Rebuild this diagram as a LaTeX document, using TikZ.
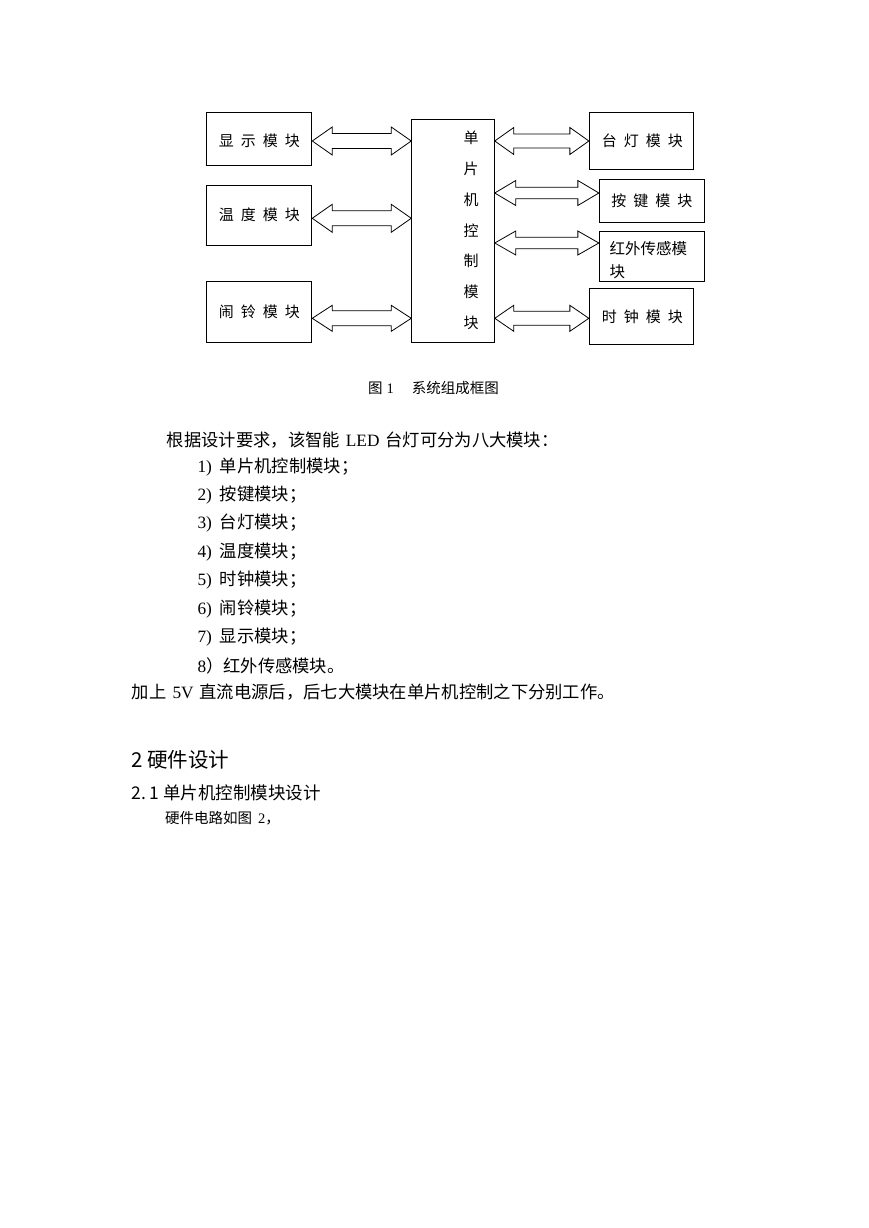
\documentclass[tikz,border=0pt]{standalone}
\usepackage{fontspec}
\setmainfont{Liberation Serif}
\newfontfamily\cjk{Noto Sans CJK SC}
\usetikzlibrary{calc}
\newcommand\gp{\hspace{7pt}}
% #1 left end, #2 right end, #3 head length, #4 head half width, #5 shaft half width
\newcommand\biarrow[5]{%
  \draw[barrow] let \p1=(#1), \p2=(#2) in
  (\x1,\y1) -- (\x1+#3,\y1+#4) -- (\x1+#3,\y1+#5) -- (\x2-#3,\y1+#5) -- (\x2-#3,\y1+#4) -- (\x2,\y1)
  -- (\x2-#3,\y1-#4) -- (\x2-#3,\y1-#5) -- (\x1+#3,\y1-#5) -- (\x1+#3,\y1-#4) -- cycle;}
\begin{document}
\begin{tikzpicture}[x=1pt,y=-1pt,
  box/.style={draw,line width=0.9pt,inner sep=0pt,rectangle},
  boxtxt/.style={font=\fontsize{15}{18}\selectfont\cjk,inner sep=0pt},
  barrow/.style={draw,line width=0.8pt,fill=white,line join=miter},
  body/.style={font=\fontsize{17.3}{20}\selectfont,anchor=west,inner sep=0pt},
  ]
\fill[white] (0,0) rectangle (869,1228);
\useasboundingbox (0,0) rectangle (869,1228);

% ---- boxes ----
\node[box,minimum width=105pt,minimum height=53pt] (disp) at (259.3,138.7) {};
\node[box,minimum width=105pt,minimum height=60pt] (temp) at (259.3,215) {};
\node[box,minimum width=105pt,minimum height=61pt] (alarm) at (259.3,312.2) {};
\node[box,minimum width=82.6pt,minimum height=223.4pt] (mcu) at (453,231) {};
\node[box,minimum width=104pt,minimum height=57pt] (lamp) at (641.3,140.8) {};
\node[box,minimum width=105pt,minimum height=43.4pt] (key) at (651.8,201) {};
\node[box,minimum width=105pt,minimum height=49.3pt] (ir) at (651.8,256.4) {};
\node[box,minimum width=104pt,minimum height=55.7pt] (clock) at (641.3,316.7) {};

% ---- box texts ----
\node[boxtxt] (tdisp) at ([yshift=-2.5pt]disp.center) {显\gp 示\gp 模\gp 块};
\node[boxtxt] (ttemp) at (temp.center) {温\gp 度\gp 模\gp 块};
\node[boxtxt] (talarm) at (alarm.center) {闹\gp 铃\gp 模\gp 块};
\node[boxtxt] (tlamp) at ([xshift=1pt]lamp.center) {台\gp 灯\gp 模\gp 块};
\node[boxtxt] (tkey) at (key.center) {按\gp 键\gp 模\gp 块};
\node[boxtxt] (tclock) at ([xshift=1pt]clock.center) {时\gp 钟\gp 模\gp 块};
\node[boxtxt,anchor=west,align=left,font=\fontsize{15.5}{23}\selectfont\cjk] (tir) at (609.5,260.5) {红外传感模\\块};
\node[boxtxt,align=center,font=\fontsize{15}{30.8}\selectfont\cjk] (tmcu) at (471,230.5) {单\\片\\机\\控\\制\\模\\块};

% ---- arrows ----
\coordinate (L1a) at (disp.east |- 0,141);
\coordinate (L1b) at (mcu.west |- 0,141);
\coordinate (L2a) at (temp.east |- 0,218.3);
\coordinate (L2b) at (mcu.west |- 0,218.3);
\coordinate (L3a) at (alarm.east |- 0,318.3);
\coordinate (L3b) at (mcu.west |- 0,318.3);
\coordinate (R1a) at (mcu.east |- 0,141);
\coordinate (R1b) at (lamp.west |- 0,141);
\coordinate (R2a) at (mcu.east |- 0,193);
\coordinate (R2b) at (key.west |- 0,193);
\coordinate (R3a) at (mcu.east |- 0,243);
\coordinate (R3b) at (ir.west |- 0,243);
\coordinate (R4a) at (mcu.east |- 0,318.3);
\coordinate (R4b) at (clock.west |- 0,318.3);
\biarrow{L1a}{L1b}{20pt}{14pt}{7.5pt}
\biarrow{L2a}{L2b}{20pt}{14pt}{7.5pt}
\biarrow{L3a}{L3b}{20pt}{13pt}{7.5pt}
\biarrow{R1a}{R1b}{19pt}{13.5pt}{7pt}
\biarrow{R2a}{R2b}{21pt}{12.5pt}{5.8pt}
\biarrow{R3a}{R3b}{21pt}{12pt}{5.8pt}
\biarrow{R4a}{R4b}{19pt}{13pt}{7pt}

% ---- caption ----
\node[anchor=west,inner sep=0pt,font=\fontsize{14.5}{17}\selectfont] (cap) at (368,388)
  {{\cjk 图}\hspace{4pt}1\hspace{18pt}{\cjk 系统组成框图}};

% ---- body text ----
\node[body] (p1) at (166.7,440) {{\cjk 根据设计要求，该智能}\hspace{6pt}LED\hspace{6pt}{\cjk 台灯可分为八大模块：}};
\node[body] (it1) at (197.3,466.7) {1)\hspace{8pt}{\cjk 单片机控制模块；}};
\node[body] (it2) at (197.3,495.1) {2)\hspace{8pt}{\cjk 按键模块；}};
\node[body] (it3) at (197.3,523.5) {3)\hspace{8pt}{\cjk 台灯模块；}};
\node[body] (it4) at (197.3,551.9) {4)\hspace{8pt}{\cjk 温度模块；}};
\node[body] (it5) at (197.3,580.3) {5)\hspace{8pt}{\cjk 时钟模块；}};
\node[body] (it6) at (197.3,608.7) {6)\hspace{8pt}{\cjk 闹铃模块；}};
\node[body] (it7) at (197.3,637.1) {7)\hspace{8pt}{\cjk 显示模块；}};
\node[body] (it8) at (197.3,665.5) {8{\cjk ）红外传感模块。}};
\node[body] (p2) at (131.7,691.7) {{\cjk 加上}\hspace{6pt}5V\hspace{6pt}{\cjk 直流电源后，后七大模块在单片机控制之下分别工作。}};

% ---- headings ----
\node[anchor=west,inner sep=0pt,font=\fontsize{20.5}{24}\selectfont\cjk] (h2) at (131.7,760) {2\hspace{4pt}硬件设计};
\node[anchor=west,inner sep=0pt,font=\fontsize{17.5}{21}\selectfont\cjk] (h21) at (131.7,793.3) {2.\hspace{3pt}1\hspace{4pt}单片机控制模块设计};
\node[anchor=west,inner sep=0pt,font=\fontsize{14.5}{17}\selectfont] (p3) at (165,818.3) {{\cjk 硬件电路如图}\hspace{6pt}2{\cjk ，}};
\end{tikzpicture}
\end{document}
